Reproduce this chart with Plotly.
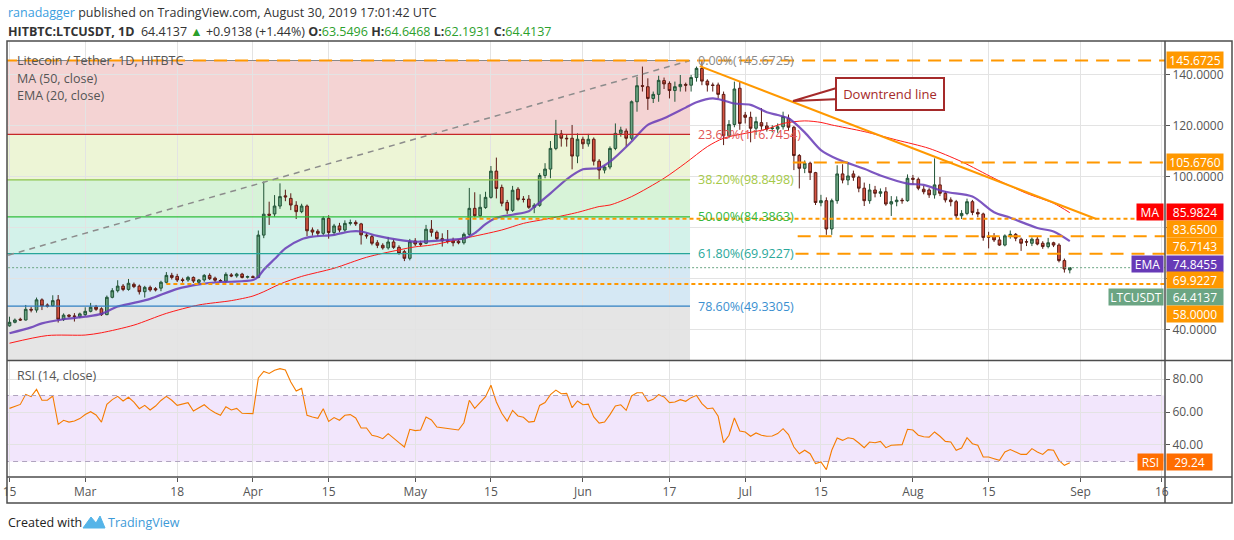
import pandas as pd
import plotly.graph_objects as go
from plotly.subplots import make_subplots

START = pd.Timestamp('2019-02-15')

# daily candles, Feb 15 .. Aug 30 2019
opens = [41.6, 43.0, 44.2, 43.9, 48.1, 47.8, 51.8, 49.8, 49.5, 51.8,
         44.2, 45.8, 45.5, 45.2, 46.0, 47.3, 49.0, 48.3, 46.0, 52.8,
         55.4, 57.2, 55.9, 57.9, 57.2, 55.0, 56.7, 56.2, 56.4, 58.7,
         61.4, 61.0, 59.7, 59.6, 60.6, 58.7, 59.6, 61.4, 60.3, 59.4,
         59.1, 61.6, 61.2, 61.9, 60.7, 60.9, 60.6, 77.2, 85.4, 85.5,
         88.6, 92.6, 91.6, 88.9, 86.4, 88.6, 79.2, 78.7, 77.9, 83.8,
         78.2, 80.8, 79.2, 81.8, 82.2, 81.6, 77.2, 76.6, 74.2, 73.2,
         72.2, 74.5, 72.4, 70.7, 68.1, 74.9, 73.9, 74.0, 79.5, 78.3,
         75.8, 75.0, 74.9, 74.8, 74.2, 77.5, 87.7, 84.8, 88.0, 92.0,
         102.3, 95.9, 90.0, 86.9, 95.2, 91.3, 91.3, 88.1, 88.9, 100.6,
         103.1, 111.2, 116.9, 115.2, 115.2, 108.2, 114.8, 113.0, 114.8, 106.2,
         102.7, 103.9, 111.2, 117.1, 118.0, 115.2, 129.5, 135.8, 135.4, 130.8,
         132.4, 137.8, 136.7, 133.9, 135.4, 136.3, 136.0, 139.0, 142.6, 137.6,
         136.1, 136.1, 132.4, 116.2, 120.6, 134.8, 124.3, 123.4, 119.1, 121.3,
         120.0, 119.0, 118.8, 119.7, 123.0, 119.5, 108.4, 103.4, 105.4, 101.7,
         89.9, 90.7, 79.6, 90.7, 101.2, 98.8, 101.2, 99.9, 95.6, 90.7,
         94.9, 93.6, 94.2, 89.4, 90.3, 90.9, 90.7, 99.5, 99.1, 95.2,
         94.9, 93.0, 96.9, 93.6, 91.0, 90.3, 84.8, 85.7, 90.3, 86.1,
         85.5, 76.6, 76.6, 75.3, 73.3, 76.9, 77.5, 75.6, 74.6, 74.0,
         75.6, 74.0, 72.7, 74.2, 73.3, 67.2, 63.5496]
highs = [45.2, 44.5, 44.8, 49.8, 49.0, 52.7, 52.4, 50.4, 53.6, 53.7,
         46.5, 46.2, 46.6, 46.8, 48.9, 50.6, 49.8, 48.9, 53.5, 56.4,
         59.5, 58.0, 60.0, 58.6, 57.8, 57.3, 57.4, 56.8, 59.3, 62.7,
         62.4, 62.0, 60.5, 61.2, 61.0, 60.0, 61.9, 62.2, 60.9, 59.9,
         62.6, 62.3, 62.4, 62.4, 61.3, 61.4, 79.0, 98.2, 90.3, 92.9,
         97.5, 95.0, 93.6, 90.5, 89.5, 89.2, 80.2, 79.5, 84.6, 85.0,
         81.6, 82.0, 83.0, 83.3, 83.0, 82.0, 78.0, 77.3, 75.2, 74.0,
         76.5, 75.5, 73.2, 71.4, 75.7, 76.0, 75.0, 81.2, 83.1, 79.0,
         77.9, 79.2, 76.2, 75.5, 78.2, 95.7, 94.0, 93.2, 94.2, 104.3,
         107.6, 97.0, 91.0, 96.5, 96.0, 92.5, 92.9, 89.7, 101.5, 105.4,
         114.1, 122.4, 118.4, 116.5, 120.4, 117.1, 115.8, 116.9, 115.5, 107.0,
         104.5, 112.0, 121.0, 119.7, 119.0, 130.0, 139.3, 143.3, 138.7, 133.5,
         139.7, 139.0, 137.5, 137.4, 140.0, 137.0, 140.0, 143.3, 145.67, 138.3,
         137.0, 137.0, 133.5, 122.3, 137.4, 137.6, 125.5, 125.6, 123.6, 127.0,
         121.5, 120.3, 121.0, 125.6, 124.5, 120.0, 109.0, 106.5, 106.0, 102.0,
         93.0, 92.0, 91.5, 104.6, 105.0, 105.8, 102.5, 100.5, 97.8, 97.3,
         96.5, 95.5, 96.0, 92.5, 92.4, 91.8, 101.0, 100.8, 99.8, 96.5,
         95.6, 107.3, 100.0, 94.5, 92.0, 91.0, 87.0, 91.5, 91.0, 87.5,
         86.0, 78.5, 78.0, 76.5, 77.5, 79.0, 78.0, 76.2, 75.6, 76.3,
         76.6, 74.8, 76.1, 74.6, 74.0, 68.0, 64.6468]
lows = [41.3, 42.6, 43.5, 43.7, 46.9, 46.8, 47.8, 48.8, 49.2, 42.9,
        43.5, 44.8, 43.3, 44.6, 45.5, 46.9, 47.5, 45.5, 45.8, 52.4,
        54.7, 55.2, 55.4, 56.4, 53.9, 52.7, 55.0, 55.1, 55.2, 58.2,
        59.8, 58.8, 58.6, 58.9, 58.4, 58.0, 58.9, 59.6, 58.8, 58.7,
        58.6, 60.7, 60.5, 60.2, 60.2, 60.3, 60.3, 76.0, 81.2, 84.4,
        87.5, 90.5, 87.0, 83.5, 85.8, 76.8, 77.0, 76.8, 77.2, 75.8,
        77.3, 78.3, 78.5, 81.0, 80.8, 73.5, 75.8, 73.2, 72.1, 71.5,
        71.5, 71.8, 69.5, 67.0, 67.3, 72.9, 72.8, 73.7, 76.6, 75.3,
        72.7, 73.9, 72.8, 73.6, 73.5, 77.0, 84.2, 84.2, 87.5, 91.5,
        91.6, 88.5, 85.5, 86.3, 90.5, 90.0, 87.5, 85.8, 88.3, 99.5,
        99.5, 110.5, 111.9, 111.9, 103.0, 105.4, 111.0, 111.9, 104.5, 99.0,
        101.4, 103.0, 110.5, 115.8, 112.0, 114.5, 125.6, 133.5, 126.3, 129.0,
        129.5, 134.5, 130.8, 129.5, 133.5, 133.5, 133.5, 137.4, 136.0, 133.5,
        133.5, 130.8, 112.5, 115.2, 119.5, 118.5, 121.0, 113.6, 116.5, 118.5,
        117.8, 117.5, 117.3, 118.6, 118.0, 102.7, 95.5, 101.5, 98.8, 89.0,
        88.5, 77.3, 77.3, 89.5, 97.5, 96.8, 98.5, 94.0, 88.6, 89.5,
        92.0, 92.2, 88.7, 84.7, 88.5, 89.5, 90.3, 97.0, 94.8, 93.2,
        91.8, 91.5, 92.5, 90.0, 88.5, 83.8, 83.5, 85.0, 85.0, 84.2,
        75.0, 72.0, 74.5, 73.0, 72.8, 75.8, 74.8, 71.0, 72.9, 72.9,
        73.2, 71.8, 72.0, 72.5, 66.5, 62.5, 62.1931]
closes = [43.0, 43.9, 43.9, 48.1, 47.8, 51.8, 49.4, 49.3, 51.5, 44.2,
          45.8, 45.4, 45.3, 46.3, 47.3, 48.9, 48.1, 46.0, 52.8, 55.4,
          57.2, 55.9, 58.3, 57.0, 55.0, 56.7, 55.7, 55.7, 58.7, 61.4,
          60.6, 59.6, 59.4, 60.6, 59.2, 59.6, 61.4, 60.1, 59.5, 59.2,
          61.8, 61.2, 61.9, 60.6, 60.9, 60.6, 77.2, 85.4, 85.0, 88.6,
          92.3, 92.2, 89.0, 86.4, 88.6, 78.9, 78.4, 77.9, 83.8, 78.2,
          80.8, 79.2, 81.8, 82.1, 81.6, 77.3, 76.9, 74.0, 73.2, 72.2,
          74.5, 72.4, 70.0, 68.1, 74.6, 73.7, 73.6, 79.5, 78.3, 75.8,
          75.0, 74.7, 74.2, 74.2, 77.5, 87.7, 84.8, 88.1, 92.0, 102.3,
          95.5, 89.7, 86.9, 94.8, 91.2, 91.2, 88.1, 88.9, 100.6, 103.1,
          111.2, 116.9, 115.2, 115.0, 108.2, 114.8, 113.0, 114.8, 106.2, 102.7,
          103.9, 111.2, 117.1, 118.4, 115.2, 129.5, 135.8, 135.6, 130.8, 132.4,
          137.9, 136.5, 133.9, 135.4, 136.3, 136.0, 139.0, 142.6, 137.6, 136.1,
          135.9, 132.4, 116.2, 120.6, 134.5, 121.0, 123.4, 119.1, 121.7, 120.0,
          118.8, 119.2, 119.7, 123.7, 119.5, 108.4, 103.4, 105.4, 101.7, 90.0,
          90.7, 79.6, 90.7, 101.2, 98.8, 100.4, 99.9, 95.6, 90.7, 94.9,
          93.6, 94.2, 89.4, 90.3, 90.9, 90.7, 99.5, 99.1, 95.6, 94.2,
          93.0, 96.9, 93.6, 91.0, 90.3, 84.8, 85.7, 90.3, 86.1, 85.5,
          76.3, 76.4, 75.3, 73.3, 76.9, 77.5, 76.0, 74.0, 74.5, 75.6,
          73.7, 72.7, 74.2, 73.3, 67.2, 63.9, 64.4137]

# moving averages (day offset from Feb 15, value)
ma_days = [0, 7, 14, 17, 23, 29, 35, 41, 45, 47, 50, 54, 60, 66, 72, 75, 78, 84, 91, 95,
           100, 105, 109, 111, 115, 121, 125, 129, 132, 136, 140, 143, 147, 150, 152,
           158, 164, 170, 176, 182, 188, 193, 196]
ma_vals = [34.8, 37.8, 38.0, 38.9, 41.9, 46.5, 49.8, 51.5, 53.3, 55.0, 58.0, 61.0, 64.2, 68.5,
           71.4, 72.6, 73.3, 75.9, 79.2, 81.8, 83.8, 86.1, 88.4, 89.0, 92.3, 99.5, 105.5,
           111.9, 115.2, 117.1, 118.8, 121.0, 122.0, 121.4, 120.4, 117.8, 114.5, 111.2,
           106.0, 99.5, 93.6, 89.7, 85.9824]
ema_days = [0, 4, 6, 10, 14, 17, 20, 23, 26, 31, 35, 39, 41, 45, 46, 47, 49, 51, 54, 56, 60,
            63, 65, 68, 72, 75, 81, 84, 86, 88, 90, 93, 96, 97, 100, 103, 106, 109, 111,
            115, 118, 121, 125, 127, 130, 132, 134, 137, 140, 142, 144, 147, 150, 153,
            158, 161, 166, 169, 173, 178, 182, 185, 190, 193, 196]
ema_vals = [38.7, 41.0, 42.6, 44.2, 45.2, 46.3, 49.2, 50.6, 52.2, 56.1, 57.9, 58.8, 58.9,
            59.6, 60.9, 63.6, 67.8, 72.0, 75.6, 76.6, 77.3, 78.6, 78.6, 76.9, 75.3, 74.6,
            75.3, 75.9, 78.0, 81.5, 84.0, 85.2, 86.6, 88.3, 93.6, 99.1, 103.0, 103.5,
            106.0, 113.9, 120.4, 123.0, 127.2, 129.3, 130.8, 130.0, 128.8, 128.3, 125.4,
            124.3, 123.0, 117.5, 110.5, 107.0, 103.2, 100.6, 97.4, 96.9, 94.2, 92.3, 86.2,
            84.0, 80.0, 78.6, 74.8455]

rsi_vals = [62.2, 63.5, 64.6, 70.7, 69.3, 73.7, 67.1, 67.1, 69.7, 52.5,
            55.0, 53.9, 54.5, 56.0, 58.5, 60.2, 58.2, 53.9, 64.6, 67.5,
            69.5, 66.7, 68.9, 66.0, 62.0, 64.0, 61.2, 63.6, 67.0, 69.5,
            67.1, 64.0, 64.8, 65.7, 60.6, 62.5, 64.4, 61.6, 59.5, 58.0,
            63.2, 61.2, 62.2, 59.2, 59.2, 59.0, 80.6, 84.6, 83.4, 85.3,
            86.3, 85.5, 78.2, 72.7, 74.3, 58.0, 57.0, 56.2, 62.0, 54.3,
            56.6, 55.0, 58.0, 58.4, 56.4, 50.3, 50.3, 45.9, 45.1, 43.8,
            46.9, 44.4, 41.4, 38.8, 49.5, 48.7, 49.1, 57.0, 55.2, 50.9,
            50.4, 50.0, 49.5, 49.1, 53.5, 67.1, 62.2, 65.5, 69.3, 76.2,
            66.1, 59.2, 54.5, 61.0, 57.6, 56.8, 53.9, 54.3, 64.0, 65.7,
            70.5, 73.3, 71.1, 71.3, 62.6, 66.7, 64.4, 64.8, 57.0, 53.3,
            53.9, 58.4, 63.6, 64.4, 61.0, 69.7, 71.7, 71.7, 66.5, 67.7,
            70.5, 69.1, 65.7, 66.1, 67.5, 66.5, 68.7, 70.1, 65.1, 62.0,
            62.4, 57.4, 41.4, 45.9, 56.4, 48.5, 47.9, 45.3, 47.3, 45.9,
            45.3, 45.5, 46.9, 49.9, 46.3, 38.8, 34.7, 36.8, 34.7, 28.7,
            29.7, 25.1, 36.8, 44.2, 42.8, 44.4, 43.8, 41.2, 38.4, 41.8,
            41.4, 42.2, 38.4, 39.8, 40.0, 40.2, 49.5, 49.1, 45.9, 45.0,
            44.8, 47.9, 45.3, 42.2, 41.8, 36.8, 38.2, 44.4, 40.8, 39.8,
            32.7, 32.7, 31.7, 30.7, 35.8, 37.2, 35.8, 34.3, 34.3, 37.8,
            35.8, 34.3, 37.2, 36.8, 30.7, 27.7, 29.24]

fib_levels = [145.6725, 116.7454, 98.8498, 84.3863, 69.9227, 49.3305]
fib_names = ['0.00%', '23.60%', '38.20%', '50.00%', '61.80%', '78.60%']
fib_bottom = 23.1
level_lines = [145.6725, 105.6760, 83.65, 76.7143, 69.9227, 58.0]

tick_dates = ['2019-02-15', '2019-03-01', '2019-03-18', '2019-04-01', '2019-04-15',
              '2019-05-01', '2019-05-15', '2019-06-01', '2019-06-17', '2019-07-01',
              '2019-07-15', '2019-08-01', '2019-08-15', '2019-09-01', '2019-09-16']
tick_text = ['15', 'Mar', '18', 'Apr', '15', 'May', '15', 'Jun', '17', 'Jul', '15',
             'Aug', '15', 'Sep', '16']

FONT = 'Open Sans'
ORANGE = '#ff9800'


def day(d):
    return (START + pd.Timedelta(days=d)).strftime('%Y-%m-%d %H:%M')


def px(xp):
    return (xp - 7) / 1158


def py(yp):
    return (477 - yp) / 436


def note(x, y, text, size=12.5, color='#555555', xanchor='left', **kw):
    return dict(xref='paper', yref='paper', x=x, y=y, xanchor=xanchor, yanchor='middle',
                showarrow=False, text=text, font=dict(family=FONT, size=size, color=color), **kw)


dates = [day(i) for i in range(len(closes))]

fig = make_subplots(rows=2, cols=1, shared_xaxes=True, vertical_spacing=0.0)

fig.add_trace(go.Candlestick(
    x=dates, open=opens, high=highs, low=lows, close=closes,
    increasing=dict(fillcolor='#6ba583', line=dict(color='#225437', width=1)),
    decreasing=dict(fillcolor='#d75442', line=dict(color='#5b1a13', width=1)),
    whiskerwidth=0, showlegend=False), row=1, col=1)

fig.add_trace(go.Scatter(x=[day(d) for d in ma_days], y=ma_vals, mode='lines',
                         line=dict(color='#ff1a1a', width=1, shape='spline', smoothing=0.8),
                         showlegend=False), row=1, col=1)
fig.add_trace(go.Scatter(x=[day(d) for d in ema_days], y=ema_vals, mode='lines',
                         line=dict(color='#673ab7', width=2.2, shape='spline', smoothing=0.8),
                         opacity=0.85, showlegend=False), row=1, col=1)

fig.add_trace(go.Scatter(x=dates, y=rsi_vals, mode='lines',
                         line=dict(color='#f57c00', width=1.1), showlegend=False), row=2, col=1)

shapes = []
# fib retracement zones
zone_colors = ['#f4d3d3', '#edf5d6', '#d7f3d8', '#d3f2ea', '#d5e8f4', '#e5e5e5']
line_colors = ['#8a8a8a', '#c62828', '#8bc34a', '#2ebd3a', '#26a69a', '#2f7fc1']
label_colors = ['#8a8a8a', '#e05555', '#a5c948', '#36b83c', '#2aa89a', '#3a8fd0']
fib_end = day(125.8)
bounds = fib_levels + [fib_bottom]
for i in range(len(fib_levels)):
    shapes.append(dict(type='rect', xref='x', yref='y', x0=day(-80), x1=fib_end,
                       y0=bounds[i + 1], y1=bounds[i], fillcolor=zone_colors[i],
                       line=dict(width=0), layer='below'))
for i, lvl in enumerate(fib_levels):
    shapes.append(dict(type='line', xref='x', yref='y', x0=day(-80), x1=fib_end,
                       y0=lvl, y1=lvl, line=dict(color=line_colors[i], width=1.2)))
shapes.append(dict(type='line', xref='x', yref='y', x0=day(-76.5), x1=fib_end,
                   y0=fib_bottom, y1=fib_levels[0],
                   line=dict(color='#8c8c8c', width=1.5, dash='6px,5px')))

# horizontal support / resistance lines
line_starts = [-1, 144.8, 83, 145.7, 145.3, 29]
line_dash = ['13px,8px', '13px,8px', '4px,3px', '13px,8px', '13px,8px', '4px,3px']
for lvl, s, dsh in zip(level_lines, line_starts, line_dash):
    shapes.append(dict(type='line', xref='x', yref='y', x0=day(s), x1=day(214),
                       y0=lvl, y1=lvl, line=dict(color=ORANGE, width=2, dash=dsh)))

# last price line
shapes.append(dict(type='line', xref='x', yref='y', x0=day(-1), x1=day(214),
                   y0=closes[-1], y1=closes[-1],
                   line=dict(color='#6ba583', width=1, dash='2px,2px')))

# downtrend line
shapes.append(dict(type='line', xref='x', yref='y', x0=day(127.6), x1=day(200.9),
                   y0=143.5, y1=83.5, line=dict(color=ORANGE, width=2)))

# RSI band
shapes.append(dict(type='rect', xref='x2', yref='y2', x0=day(-1), x1=day(214), y0=30, y1=70,
                   fillcolor='#f2e6fc', line=dict(width=0), layer='below'))
for lvl in (70, 30):
    shapes.append(dict(type='line', xref='x2', yref='y2', x0=day(-1), x1=day(214),
                       y0=lvl, y1=lvl, line=dict(color='#b0a3bf', width=1, dash='5px,4px')))

# callout tail
shapes.append(dict(type='path', xref='paper', yref='paper',
                   path=f'M {px(840)} {py(87)} L {px(793)} {py(101)} L {px(840)} {py(99)} Z',
                   fillcolor='white', line=dict(color='#a52a2a', width=2)))

# frame
frame = '#4d4d4d'
right = px(1232)
bottom = py(503)
shapes += [
    dict(type='rect', xref='paper', yref='paper', x0=0, x1=right, y0=bottom, y1=1,
         line=dict(color=frame, width=1.5)),
    dict(type='line', xref='paper', yref='paper', x0=1, x1=1, y0=bottom, y1=1,
         line=dict(color=frame, width=1.5)),
    dict(type='line', xref='paper', yref='paper', x0=0, x1=right, y0=py(360.5), y1=py(360.5),
         line=dict(color=frame, width=1.5)),
    dict(type='line', xref='paper', yref='paper', x0=0, x1=right, y0=0, y1=0,
         line=dict(color=frame, width=1.5)),
]

# TradingView logo
shapes.append(dict(type='path', xref='paper', yref='paper',
                   path=(f'M {px(83)} {py(528)} L {px(91)} {py(517)} L {px(96)} {py(523)} '
                         f'L {px(100)} {py(516)} L {px(105)} {py(528)} Z'),
                   fillcolor='#55b4e8', line=dict(color='#55b4e8', width=1)))

annotations = []
# header
annotations.append(note(px(6), py(12),
                        "<span style='color:#3a9ee0'>ranadagger</span> published on "
                        "TradingView.com, August 30, 2019 17:01:42 UTC", color='#333333'))
g = "<span style='color:#2ca02c'>"
annotations.append(note(px(6), py(31),
                        f"<b>HITBTC:LTCUSDT, 1D</b>  64.4137 {g}▲</span> +0.9138 (+1.44%) "
                        f"<b>O:</b>{g}63.5496</span> <b>H:</b>{g}64.6468</span> "
                        f"<b>L:</b>{g}62.1931</span> <b>C:</b>{g}64.4137</span>",
                        color='#333333'))

# study legend
for txt, yy in [('Litecoin / Tether, 1D, HITBTC', 60), ('MA (50, close)', 78),
                ('EMA (20, close)', 95)]:
    annotations.append(note(px(15), py(yy), txt))

# fib labels
for name, lvl, col in zip(fib_names, fib_levels, label_colors):
    annotations.append(dict(xref='paper', yref='y', x=px(696), y=lvl, xanchor='left',
                            yanchor='middle', showarrow=False, text=f'{name}({lvl:.4f})',
                            font=dict(family=FONT, size=12.5, color=col)))

# callout box
annotations.append(note(px(890), py(94), 'Downtrend line', size=13, color='#a52a2a',
                        xanchor='center', width=100, height=24, borderpad=3,
                        bordercolor='#a52a2a', borderwidth=2, bgcolor='white'))

# price scale labels
price_labels = [
    (f'{level_lines[0]:.4f}', ORANGE, 60, None),
    (f'{level_lines[1]:.4f}', ORANGE, 162, None),
    (f'{ma_vals[-1]:.4f}', '#ff0000', 212, ('MA', 26)),
    (f'{level_lines[2]:.4f}', ORANGE, 229, None),
    (f'{level_lines[3]:.4f}', ORANGE, 246, None),
    (f'{ema_vals[-1]:.4f}', '#673ab7', 263.5, ('EMA', 31)),
    (f'{level_lines[4]:.4f}', ORANGE, 280, None),
    (f'{closes[-1]:.4f}', '#6ba583', 297, ('LTCUSDT', 54)),
    (f'{level_lines[5]:.4f}', ORANGE, 314, None),
]
for txt, col, yy, tag in price_labels:
    annotations.append(note(px(1166), py(yy), txt, size=12, color='white',
                            width=56, height=16, bgcolor=col, borderpad=0))
    if tag:
        annotations.append(note(px(1164), py(yy), tag[0], size=12, color='white',
                                xanchor='right', width=tag[1], height=16, bgcolor=col,
                                borderpad=0))

# RSI label
annotations.append(note(px(1166), py(462), f'{rsi_vals[-1]:.2f}', size=12, color='white',
                        width=45, height=16, bgcolor='#ff6d00', borderpad=0))
annotations.append(note(px(1164), py(462), 'RSI', size=12, color='white', xanchor='right',
                        width=25, height=16, bgcolor='#ff6d00', borderpad=0))
annotations.append(note(px(15), py(375), 'RSI (14, close)'))

# footer
annotations.append(note(px(6), py(522), 'Created with', size=12.5, color='#222222'))
annotations.append(note(px(106), py(522), 'TradingView', size=12.5, color='#3c9ad8'))

grid = '#e3e3e3'
xrange = [day(-0.46), day(213.6)]
tick_font = dict(family=FONT, size=12, color='#555555')
fig.update_layout(
    width=1234, height=540,
    margin=dict(l=7, r=69, t=41, b=63),
    paper_bgcolor='white', plot_bgcolor='white',
    showlegend=False,
    shapes=shapes, annotations=annotations,
    font=dict(family=FONT, size=12, color='#4a4a4a'),
    xaxis=dict(range=xrange, tickvals=tick_dates, showticklabels=False, showgrid=True,
               gridcolor=grid, rangeslider=dict(visible=False), zeroline=False,
               automargin=False),
    xaxis2=dict(range=xrange, tickvals=tick_dates, ticktext=tick_text, showgrid=True,
                gridcolor=grid, ticks='outside', ticklen=4, tickcolor='#555555',
                tickfont=tick_font, zeroline=False, automargin=False),
    yaxis=dict(domain=[0.2685, 1], range=[28.24, 153.33], side='right',
               tickvals=[40, 60, 80, 100, 120, 140],
               ticktext=['40.0000', '', '', '100.0000', '120.0000', '140.0000'],
               ticks='outside', ticklen=4, tickcolor='#555555', showgrid=True, gridcolor=grid,
               tickfont=tick_font, zeroline=False, automargin=False),
    yaxis2=dict(domain=[0, 0.266], range=[20.6, 90.9], side='right',
                tickvals=[40, 60, 80], ticktext=['40.00', '60.00', '80.00'],
                ticks='outside', ticklen=4, tickcolor='#555555', showgrid=True, gridcolor=grid,
                tickfont=tick_font, zeroline=False, automargin=False),
)

fig.write_html('out.html', config={'displayModeBar': False},
               post_script="document.body.style.margin='0';")
